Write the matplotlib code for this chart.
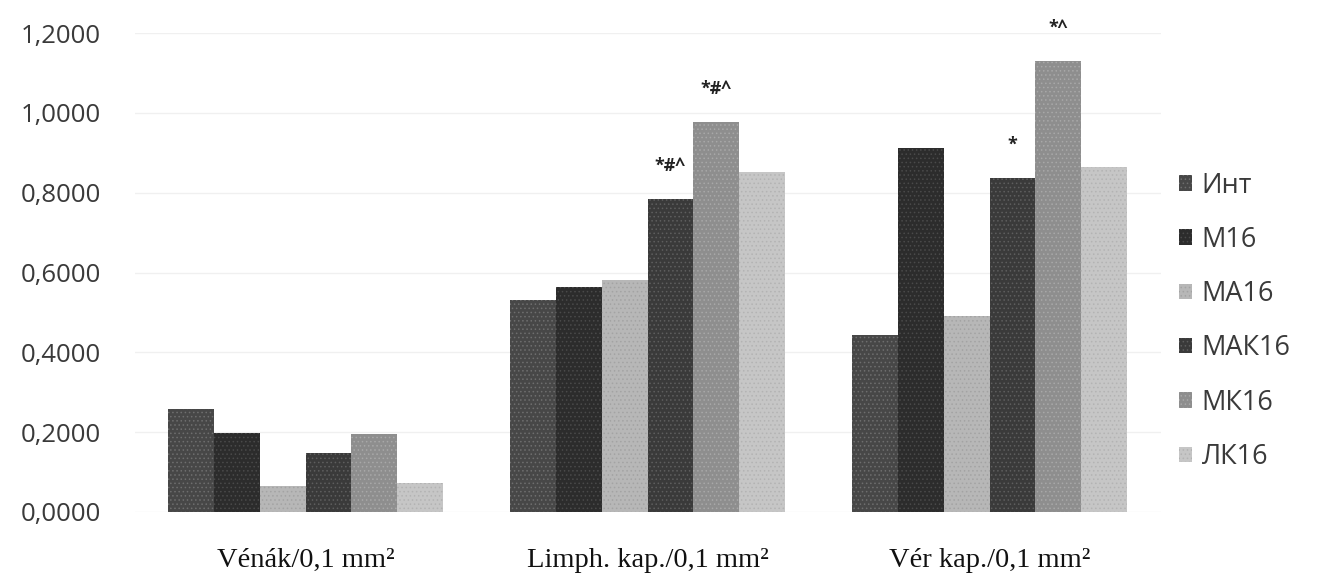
import matplotlib
matplotlib.use("Agg")
import matplotlib.pyplot as plt
import numpy as np
from matplotlib.ticker import FuncFormatter
from matplotlib.patches import Patch

categories = ["Vénák/0,1 mm²", "Limph. kap./0,1 mm²", "Vér kap./0,1 mm²"]
series_names = ["Инт", "М16", "МА16", "МАК16", "МК16", "ЛК16"]
v_int = [0.258, 0.530, 0.444]
v_m16 = [0.199, 0.563, 0.913]
v_ma16 = [0.065, 0.580, 0.492]
v_mak16 = [0.147, 0.784, 0.836]
v_mk16 = [0.196, 0.976, 1.130]
v_lk16 = [0.073, 0.852, 0.864]
# significance marks: (category index, series index, text)
marks = [(1, 3, "*#^"), (1, 4, "*#^"), (2, 3, "*"), (2, 4, "*^")]

series_values = [v_int, v_m16, v_ma16, v_mak16, v_mk16, v_lk16]
face_colors = ["#474747", "#2c2c2c", "#b7b7b7", "#3a3a3a", "#8e8e8e", "#c6c6c6"]
hatch_colors = ["#6e6e6e", "#4a4a4a", "#a3a3a3", "#5e5e5e", "#a8a8a8", "#b3b3b3"]

plt.rcParams["hatch.linewidth"] = 0.6
fig = plt.figure(figsize=(13.17, 5.81), dpi=100)
ax = fig.add_axes([134.5 / 1317, (581 - 512) / 581, 1026 / 1317, (512 - 33) / 581])

x = np.arange(len(categories))
n = len(series_values)
bw = 0.804 / n
for i, vals in enumerate(series_values):
    ax.bar(x + (i - (n - 1) / 2) * bw, vals, width=bw, color=face_colors[i],
           edgecolor=hatch_colors[i], hatch="....", linewidth=0, zorder=2,
           label=series_names[i])

for ci, si, txt in marks:
    xv = x[ci] + (si - (n - 1) / 2) * bw
    yv = series_values[si][ci]
    ax.annotate(txt, (xv, yv), xytext=(0, 24), textcoords="offset points",
                ha="center", va="center", fontsize=13, fontweight="bold", color="#222222",
                family=["Open Sans", "DejaVu Sans"])

ax.set_xlim(-0.5, 2.5)
ax.set_ylim(0, 1.2)
ax.set_yticks(np.arange(0, 1.21, 0.2))
ax.yaxis.set_major_formatter(FuncFormatter(lambda v, p: f"{v:.4f}".replace(".", ",")))
ax.set_xticks(x)
ax.set_xticklabels(categories, family=["Liberation Serif", "DejaVu Serif"], fontsize=20.5)
for lab in ax.get_yticklabels():
    lab.set_family(["Open Sans", "DejaVu Sans"])
    lab.set_fontsize(18.5)
    lab.set_color("#3a3a3a")
ax.tick_params(axis="y", length=0, pad=24)
ax.tick_params(axis="x", length=0, pad=26, colors="#111111")
for s in ax.spines.values():
    s.set_visible(False)
ax.yaxis.grid(True, color="#f0f0f0", linewidth=1, zorder=0)
ax.set_axisbelow(True)

handles = [Patch(facecolor=face_colors[i], edgecolor=hatch_colors[i], hatch="....",
                 linewidth=0, label=series_names[i]) for i in range(n)]
fig.legend(handles=handles, loc="upper left", bbox_to_anchor=(1165 / 1317, 1 - 158 / 581),
           frameon=False, prop={"family": ["Open Sans", "DejaVu Sans"], "size": 19.5},
           handlelength=0.5, handleheight=0.5, handletextpad=0.35, labelspacing=0.97,
           borderpad=0, labelcolor="#3a3a3a")

fig.savefig("out.png", dpi=100, facecolor="white")
